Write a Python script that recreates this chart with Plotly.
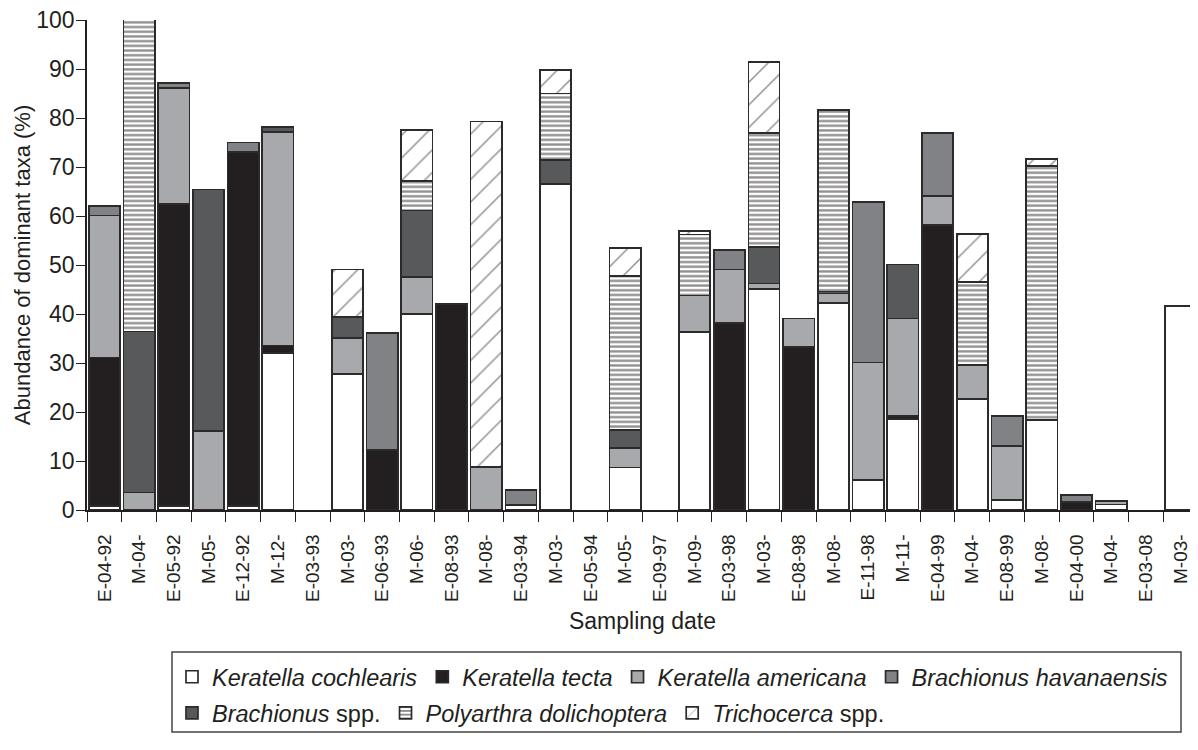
import plotly.graph_objects as go

dates = ["E-04-92", "M-04-", "E-05-92", "M-05-", "E-12-92", "M-12-", "E-03-93", "M-03-",
         "E-06-93", "M-06-", "E-08-93", "M-08-", "E-03-94", "M-03-", "E-05-94", "M-05-",
         "E-09-97", "M-09-", "E-03-98", "M-03-", "E-08-98", "M-08-", "E-11-98", "M-11-",
         "E-04-99", "M-04-", "E-08-99", "M-08-", "E-04-00", "M-04-", "E-03-08", "M-03-"]

N = None
keratella_cochlearis = [0.8, N, 0.8, N, 0.8, 32.0, N, 27.8, N, 40.0, N, N, 1.0, 66.6, N, 8.7,
                        N, 36.3, N, 45.1, N, 42.2, 6.1, 18.6, N, 22.6, 2.1, 18.3, N, 1.1, N, 41.6]
keratella_tecta = [30.3, N, 61.6, N, 72.3, 1.6, N, N, 12.2, N, 42.1, N, N, N, N, N,
                   N, N, 38.2, N, 33.2, N, N, 0.6, 58.1, N, N, N, 1.6, N, N, N]
keratella_americana = [29.0, 3.6, 23.7, 16.1, N, 43.5, N, 7.3, N, 7.5, N, 8.8, N, N, N, 4.0,
                       N, 7.5, 10.9, 1.1, 5.9, 2.0, 24.0, 19.9, 6.0, 7.0, 11.0, N, N, 0.8, N, N]
brachionus_havanaensis = [2.0, N, 1.0, N, 1.9, N, N, N, 23.9, N, N, N, 3.1, N, N, N,
                          N, N, 4.0, N, N, N, 32.8, N, 12.9, N, 6.1, N, 1.5, N, N, N]
brachionus_spp = [N, 32.8, N, 49.3, N, 1.0, N, 4.3, N, 13.6, N, N, N, 4.9, N, 3.6,
                  N, N, N, 7.5, N, 0.4, N, 11.0, N, N, N, N, N, N, N, N]
polyarthra_dolichoptera = [N, 63.9, N, N, N, N, N, N, N, 6.1, N, N, N, 13.5, N, 31.4,
                           N, 12.4, N, 23.2, N, 37.1, N, N, N, 16.9, N, 51.9, N, N, N, N]
trichocerca_spp = [N, N, N, N, N, N, N, 9.7, N, 10.3, N, 70.5, N, 4.8, N, 5.7,
                   N, 0.7, N, 14.5, N, N, N, N, N, 9.8, N, 1.4, N, N, N, N]

y_ticks = [0, 10, 20, 30, 40, 50, 60, 70, 80, 90, 100]

FONT = "Liberation Sans, Arial, sans-serif"
LINE = "#2b2b2b"
x = list(range(len(dates)))

series = [
    ("<i>Keratella cochlearis</i>", keratella_cochlearis, "#ffffff", None, "legend"),
    ("<i>Keratella tecta</i>", keratella_tecta, "#231f20", None, "legend"),
    ("<i>Keratella americana</i>", keratella_americana, "#a7a9ac", None, "legend"),
    ("<i>Brachionus havanaensis</i>", brachionus_havanaensis, "#808285", None, "legend"),
    ("<i>Brachionus</i> spp.", brachionus_spp, "#58595b", None, "legend2"),
    ("<i>Polyarthra dolichoptera</i>", polyarthra_dolichoptera, "#ffffff",
     dict(shape="-", size=4.7, solidity=0.5, fgcolor="#231f20"), "legend2"),
    ("<i>Trichocerca</i> spp.", trichocerca_spp, "#ffffff",
     dict(shape="/", size=16, solidity=0.09, fgcolor="#231f20"), "legend2"),
]

fig = go.Figure()
for name, vals, color, pattern, leg in series:
    marker = dict(color=color, line=dict(color=LINE, width=1.7))
    if pattern:
        marker["pattern"] = pattern
    fig.add_trace(go.Bar(x=x, y=vals, name=name, marker=marker, legend=leg,
                         cliponaxis=False))

legend_common = dict(orientation="h", xanchor="left", yanchor="middle",
                     font=dict(size=23.5), bgcolor="rgba(0,0,0,0)",
                     traceorder="normal", itemclick=False, itemdoubleclick=False)

# the page adds an 8px body margin, so the figure is 8px smaller and margins shifted
fig.update_layout(
    width=1190, height=742,
    margin=dict(l=79, r=0, t=12, b=240, autoexpand=False),
    barmode="stack", bargap=0.1,
    paper_bgcolor="white", plot_bgcolor="white",
    font=dict(family=FONT, size=20, color="#231f20"),
    showlegend=True,
    legend=dict(x=0.0765, y=-0.3408, **legend_common),
    legend2=dict(x=0.0765, y=-0.4143, **legend_common),
    shapes=[dict(type="rect", xref="paper", yref="paper", x0=0.0765, x1=0.9847,
                 y0=-0.2898, y1=-0.4531, line=dict(color="#444444", width=1.5))],
)
fig.update_xaxes(
    range=[-0.5, 31.5], tickmode="array", tickvals=x, ticktext=dates,
    tickangle=-90, ticks="outside", ticklen=15, tickcolor="rgba(0,0,0,0)",
    tickfont=dict(size=19), ticklabeloverflow="allow",
    showline=True, linecolor="#231f20", linewidth=1.5, showgrid=False, zeroline=False,
    minor=dict(tickmode="array", tickvals=[i - 0.5 for i in range(32)], ticks="outside",
               ticklen=10, tickwidth=1.3, tickcolor="#231f20", showgrid=False),
    title=dict(text="Sampling date", font=dict(size=23), standoff=12),
    automargin=False,
)
fig.update_yaxes(
    range=[0, 100], tickmode="array", tickvals=y_ticks, ticks="outside", ticklen=9,
    tickwidth=1.3, tickcolor="#231f20", tickfont=dict(size=23), ticklabelstandoff=-3,
    ticklabeloverflow="allow",
    showline=True, linecolor="#231f20", linewidth=1.5, showgrid=False, zeroline=False,
    title=dict(text="Abundance of dominant taxa (%)", font=dict(size=22), standoff=0),
    automargin=False,
)
fig.write_html("out.html")
